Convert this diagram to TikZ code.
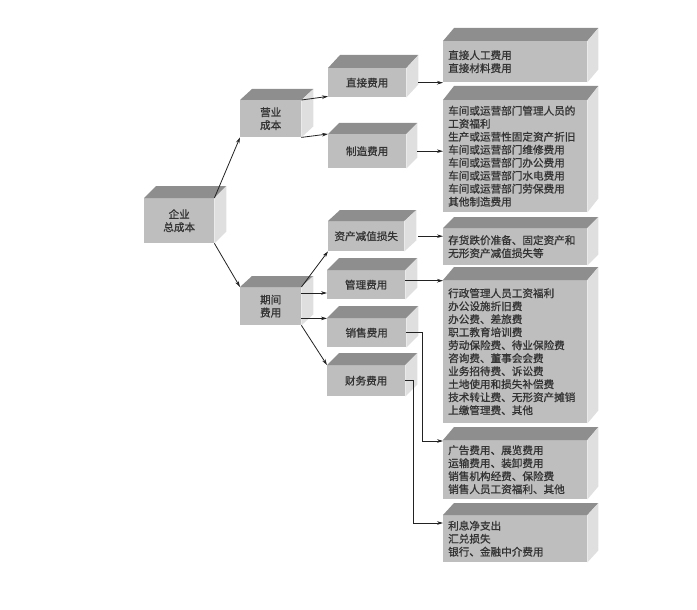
\documentclass[tikz,border=0pt]{standalone}
\usepackage{fontspec}
\newfontfamily\cjk[FakeBold=0.9]{Noto Sans CJK SC}
\usetikzlibrary{arrows.meta}
\definecolor{frontc}{HTML}{BEBEBE}
\definecolor{topc}{HTML}{8E8E8E}
\definecolor{sidec}{HTML}{DFDFDF}
\definecolor{linec}{HTML}{222222}
\definecolor{textc}{HTML}{333333}
\newcommand\cubefaces[3]{%
  \fill[topc] (#1.north west) -- ++(#2,-#3) -- ([shift={(#2,-#3)}]#1.north east) -- (#1.north east) -- cycle;
  \fill[sidec] (#1.north east) -- ++(#2,-#3) -- ([shift={(#2,-#3)}]#1.south east) -- (#1.south east) -- cycle;
}
\tikzset{
  front/.style={fill=frontc, anchor=north west, inner sep=0pt, text=textc,
    font=\cjk\fontsize{10.6}{13}\selectfont},
  smallbox/.style={front, align=center},
  bigbox/.style={front, minimum width=144pt, inner xsep=5pt, text width=134pt, align=left},
  arr/.style={draw=linec, line width=0.8pt, -{Stealth[length=6pt,width=3.6pt]}},
}
\begin{document}
\begin{tikzpicture}[x=1pt,y=-1pt]
\useasboundingbox (0,0) rectangle (697,610);
% small boxes
\node[smallbox, minimum width=70pt, minimum height=45pt] (total) at (144,198) {企业\\总成本};
\cubefaces{total}{12}{12}
\node[smallbox, minimum width=61pt, minimum height=37pt] (yingye) at (240,100) {营业\\成本};
\cubefaces{yingye}{12}{11}
\node[smallbox, minimum width=78pt, minimum height=29pt] (zhijie) at (328,68) {直接费用};
\cubefaces{zhijie}{12}{13}
\node[smallbox, minimum width=78pt, minimum height=34pt] (zhizao) at (328,134) {制造费用};
\cubefaces{zhizao}{11}{11}
\node[smallbox, minimum width=76pt, minimum height=30pt] (zichan) at (328,221) {资产减值损失};
\cubefaces{zichan}{12}{11}
\node[smallbox, minimum width=61pt, minimum height=38pt] (qijian) at (240,287) {期间\\费用};
\cubefaces{qijian}{12}{11}
\node[smallbox, minimum width=78pt, minimum height=29pt] (guanli) at (327,270) {管理费用};
\cubefaces{guanli}{12}{12}
\node[smallbox, minimum width=79pt, minimum height=29pt] (xiaoshou) at (327,318) {销售费用};
\cubefaces{xiaoshou}{12}{12}
\node[smallbox, minimum width=78pt, minimum height=31pt] (caiwu) at (327,365) {财务费用};
\cubefaces{caiwu}{12}{12}
% big boxes
\node[bigbox, minimum height=41pt] (big1) at (443,41) {直接人工费用\\直接材料费用};
\cubefaces{big1}{11}{13}
\node[bigbox, minimum height=112pt] (big2) at (443,100) {车间或运营部门管理人员的\\工资福利\\生产或运营性固定资产折旧\\车间或运营部门维修费用\\车间或运营部门办公费用\\车间或运营部门水电费用\\车间或运营部门劳保费用\\其他制造费用};
\cubefaces{big2}{11}{14}
\node[bigbox, minimum height=37pt] (big3) at (443,228) {存货跌价准备、固定资产和\\无形资产减值损失等};
\cubefaces{big3}{11}{11}
\node[bigbox, minimum height=143pt] (big4) at (443,280) {行政管理人员工资福利\\办公设施折旧费\\办公费、差旅费\\职工教育培训费\\劳动保险费、待业保险费\\咨询费、董事会会费\\业务招待费、诉讼费\\土地使用和损失补偿费\\技术转让费、无形资产摊销\\上缴管理费、其他};
\cubefaces{big4}{11}{13}
\node[bigbox, minimum height=59pt] (big5) at (443,440) {广告费用、展览费用\\运输费用、装卸费用\\销售机构经费、保险费\\销售人员工资福利、其他};
\cubefaces{big5}{11}{13}
\node[bigbox, minimum height=47pt] (big6) at (443,515) {利息净支出\\汇兑损失\\银行、金融中介费用};
\cubefaces{big6}{11}{12}
% connectors
\draw[arr] (total.north east) -- (yingye.south west);
\draw[arr] (total.south east) -- (qijian.north west);
\draw[arr] (yingye.north east) -- ([yshift=1pt]zhijie.south west);
\draw[arr] (yingye.south east) -- (zhizao.north west);
\draw[arr] ([xshift=12pt]zhijie.east) -- (zhijie.east -| big1.west);
\draw[arr] ([xshift=11pt]zhizao.east) -- (zhizao.east -| big2.west);
\draw[arr] (qijian.north east) -- (zichan.south west);
\coordinate (q1) at ([yshift=-6pt]qijian.north east);
\coordinate (q2) at ([yshift=7pt]qijian.south east);
\draw[arr] (q1) -- (q1 -| guanli.west);
\draw[arr] (q2) -- (q2 -| xiaoshou.west);
\draw[arr] (qijian.south east) -- (caiwu.north west);
\draw[arr] ([xshift=14pt]zichan.east) -- (zichan.east -| big3.west);
\coordinate (g1) at ([yshift=4pt]guanli.east);
\draw[arr] (g1) -- (g1 -| big4.west);
\draw[arr] (xiaoshou.east) -- ++(16,0) |- ([yshift=-1pt]big5.north west);
\draw[arr] (caiwu.east) -- ++(8,0) |- ([yshift=-8pt]big6.north west);
\end{tikzpicture}
\end{document}
